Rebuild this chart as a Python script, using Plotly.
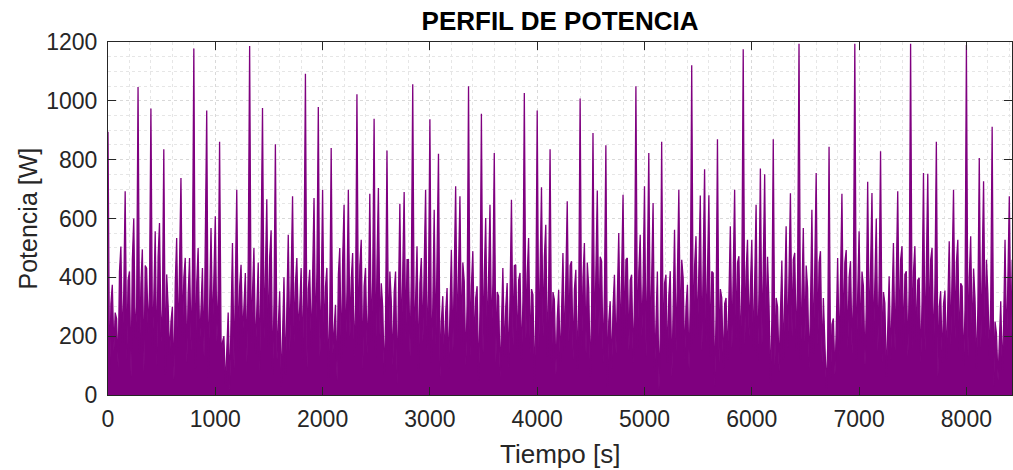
import plotly.graph_objects as go

# Envelope peaks (W), one every 40 s starting at t = 0 s
picos = [
    895, 375, 260, 505, 693, 420, 600, 1047, 495, 430,
    974, 557, 585, 835, 307, 300, 534, 738, 466, 466,
    1178, 500, 432, 967, 568, 608, 861, 200, 280, 517,
    698, 443, 415, 1186, 500, 450, 976, 665, 560, 852,
    353, 400, 545, 676, 466, 432, 1092, 426, 670, 979,
    698, 432, 840, 307, 500, 647, 698, 483, 1022, 528,
    432, 684, 939, 704, 300, 831, 319, 420, 650, 690,
    460, 1056, 506, 466, 698, 937, 630, 820, 336, 364,
    494, 710, 676, 387, 1050, 489, 370, 956, 602, 647,
    823, 336, 432, 381, 664, 443, 415, 1027, 534, 341,
    967, 706, 579, 835, 324, 358, 483, 659, 455, 426,
    1008, 517, 364, 891, 695, 455, 849, 319, 409, 551,
    681, 466, 409, 1050, 545, 710, 823, 653, 420, 861,
    409, 421, 562, 698, 400, 375, 1121, 540, 678, 767,
    679, 415, 869, 330, 330, 574, 698, 472, 1175, 528,
    528, 647, 770, 750, 310, 869, 300, 457, 574, 686,
    483, 1194, 568, 364, 630, 755, 489, 200, 844, 260,
    466, 684, 493, 455, 1194, 557, 370, 725, 687, 600,
    829, 313, 404, 517, 693, 506, 421, 1194, 506, 398,
    755, 752, 500, 861, 353, 355, 523, 698, 528, 370,
    1190, 540, 330, 806, 727, 347, 912, 210, 319, 528,
    676,
]

# Troughs right after each peak (W)
valles = [
    40, 150, 90, 170, 120, 60, 190, 140, 80, 210, 160, 100, 180, 70, 130, 50, 160, 200, 110, 150,
    90, 170, 130, 60, 210, 180, 120, 30, 20, 90, 150, 200, 110, 170, 140, 80, 190, 160, 60, 120,
    30, 70, 150, 180, 210, 120, 90, 160, 190, 130, 170, 60, 140, 50, 110, 160, 200, 130, 170, 90,
    140, 180, 120, 200, 60, 150, 100, 40, 170, 190, 130, 160, 80, 180, 150, 110, 170, 60, 120, 90,
    150, 190, 170, 100, 130, 160, 50, 140, 180, 200, 110, 60, 130, 90, 170, 150, 120, 190, 140, 40,
    160, 200, 130, 110, 70, 100, 150, 180, 120, 90, 160, 140, 60, 170, 200, 110, 30, 90, 140, 170,
    190, 150, 110, 160, 200, 130, 170, 80, 20, 140, 110, 60, 150, 190, 120, 90, 170, 200, 150, 180,
    130, 30, 110, 90, 120, 160, 190, 140, 170, 200, 150, 110, 170, 190, 40, 100, 80, 120, 160, 200,
    150, 120, 180, 90, 140, 170, 110, 20, 60, 70, 130, 180, 160, 140, 120, 170, 100, 200, 180, 150,
    110, 60, 120, 150, 190, 170, 130, 160, 180, 110, 150, 200, 140, 60, 110, 120, 170, 190, 150, 100,
    130, 170, 90, 160, 200, 120, 30, 50, 80, 150, 190,
]

# Secondary (mid-level) peaks between main peaks (W)
medios = [
    310, 280, 420, 350, 390, 460, 300, 380, 440, 360, 330, 470, 290, 410, 250, 380, 450, 400, 340, 430,
    380, 310, 450, 290, 420, 360, 180, 150, 330, 400, 370, 300, 460, 350, 280, 420, 390, 470, 310, 260,
    220, 340, 410, 380, 300, 450, 360, 390, 420, 330, 370, 280, 250, 410, 460, 350, 390, 300, 440, 370,
    320, 400, 450, 380, 260, 420, 350, 300, 390, 460, 410, 330, 380, 440, 360, 300, 470, 250, 280, 340,
    420, 390, 450, 310, 370, 330, 290, 410, 460, 380, 350, 270, 300, 340, 440, 390, 320, 410, 360, 280,
    430, 470, 380, 350, 260, 300, 390, 440, 360, 320, 400, 450, 290, 420, 470, 360, 250, 300, 370, 410,
    460, 390, 330, 420, 380, 440, 360, 300, 210, 380, 340, 290, 420, 460, 300, 330, 440, 410, 390, 450,
    420, 270, 360, 310, 290, 400, 450, 380, 420, 370, 410, 350, 440, 470, 260, 330, 280, 360, 420, 460,
    410, 380, 440, 300, 390, 450, 330, 160, 240, 220, 380, 450, 400, 370, 340, 420, 300, 460, 440, 390,
    350, 260, 330, 400, 460, 410, 370, 420, 390, 320, 440, 460, 380, 300, 310, 340, 420, 450, 380, 290,
    400, 430, 300, 410, 460, 330, 250, 180, 240, 400, 460,
]

paso = 40  # s between main peaks
t, p = [], []
for i, (hi, lo, md) in enumerate(zip(picos, valles, medios)):
    t.extend([i * paso, i * paso + 15, i * paso + 27])
    p.extend([hi, lo, md])

x_ticks = [0, 1000, 2000, 3000, 4000, 5000, 6000, 7000, 8000]
y_ticks = [0, 200, 400, 600, 800, 1000, 1200]

color = "#7f007f"
font = "Liberation Sans, Arial, Helvetica, sans-serif"

fig = go.Figure()
fig.add_trace(go.Scatter(
    x=t, y=p, mode="lines",
    line=dict(color=color, width=1.3),
    fill="tozeroy", fillcolor=color,
    hoverinfo="skip", showlegend=False,
))

axis_common = dict(
    showline=True, linecolor="#262626", linewidth=1, mirror="allticks",
    ticks="inside", ticklen=8, tickcolor="#262626", tickwidth=1,
    showgrid=True, gridcolor="#d9d9d9", griddash="dot", gridwidth=1,
    zeroline=False,
    tickfont=dict(family=font, size=23, color="#262626"),
)

fig.update_layout(
    width=1013, height=470,
    margin=dict(l=108, r=1, t=42, b=75),
    paper_bgcolor="white", plot_bgcolor="white",
    title=dict(text="<b>PERFIL DE POTENCIA</b>", x=(108 + 1012) / 2 / 1013, xanchor="center",
               y=1 - 21 / 470, yanchor="middle", yref="container",
               font=dict(family=font, size=26, color="black")),
    xaxis=dict(range=[0, 8425], tickvals=x_ticks, ticktext=[str(v) for v in x_ticks],
               minor=dict(dtick=200, tick0=0, showgrid=True, gridcolor="#e6e6e6", griddash="dot", ticks=""),
               ticklabelstandoff=3, **axis_common),
    yaxis=dict(range=[0, 1200], tickvals=y_ticks, ticktext=[str(v) for v in y_ticks],
               minor=dict(dtick=50, tick0=0, showgrid=True, gridcolor="#e6e6e6", griddash="dot", ticks=""),
               ticklabelstandoff=5, **axis_common),
    annotations=[
        dict(text="Potencia [W]", xref="paper", yref="paper", x=0, y=0.5,
             xanchor="center", yanchor="middle", xshift=-81, textangle=-90, showarrow=False,
             font=dict(family=font, size=25, color="#262626")),
        dict(text="Tiempo [s]", xref="paper", yref="paper", x=0.5, y=0,
             xanchor="center", yanchor="middle", yshift=-59, showarrow=False,
             font=dict(family=font, size=26, color="#262626")),
    ],
)

fig.write_html("out.html")
